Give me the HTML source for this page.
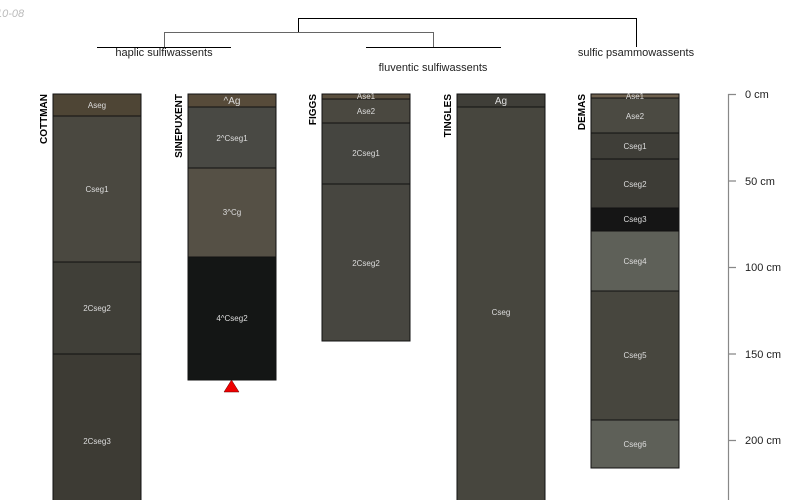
<!DOCTYPE html><html><head><style>body{margin:0;background:#fff}svg{display:block}</style></head><body>
<svg width="800" height="500" xmlns="http://www.w3.org/2000/svg" font-family="Liberation Sans, sans-serif">
<text x="-4" y="17" font-size="11" font-style="italic" fill="#bbb">10-08</text>
<g fill="none" stroke-width="1">
<path d="M298.5 32V18.5H636.5V47" stroke="#000"/>
<path d="M164.5 47V32.5H433.5V47" stroke="#666"/>
<path d="M97 47.5H231M366 47.5H501" stroke="#000"/>
</g>
<g font-size="11" fill="#222" text-anchor="middle">
<text x="164" y="56">haplic sulfiwassents</text>
<text x="433" y="71">fluventic sulfiwassents</text>
<text x="636" y="56">sulfic psammowassents</text>
</g>
<g font-size="10" font-weight="bold" text-anchor="end">
<text transform="translate(47,94) rotate(-90)">COTTMAN</text>
<text transform="translate(182,94) rotate(-90)">SINEPUXENT</text>
<text transform="translate(316,94) rotate(-90)">FIGGS</text>
<text transform="translate(451,94) rotate(-90)">TINGLES</text>
<text transform="translate(585,94) rotate(-90)">DEMAS</text>
</g>
<g stroke="#111" stroke-width="1">
<rect x="53" y="94" width="88" height="22" fill="#4e4535"/>
<rect x="53" y="116" width="88" height="146" fill="#4a4840"/>
<rect x="53" y="262" width="88" height="92" fill="#403f38"/>
<rect x="53" y="354" width="88" height="150" fill="#3d3b34"/>
<rect x="188" y="94" width="88" height="13" fill="#574b3a"/>
<rect x="188" y="107" width="88" height="61" fill="#494944"/>
<rect x="188" y="168" width="88" height="89" fill="#555045"/>
<rect x="188" y="257" width="88" height="123" fill="#141615"/>
<rect x="322" y="94" width="88" height="5" fill="#5a4f3e"/>
<rect x="322" y="99" width="88" height="24" fill="#4a4840"/>
<rect x="322" y="123" width="88" height="61" fill="#454540"/>
<rect x="322" y="184" width="88" height="157" fill="#474640"/>
<rect x="457" y="94" width="88" height="13" fill="#3f3e38"/>
<rect x="457" y="107" width="88" height="397" fill="#47463e"/>
<rect x="591" y="94" width="88" height="4" fill="#6e614e"/>
<rect x="591" y="98" width="88" height="35" fill="#4b4a42"/>
<rect x="591" y="133" width="88" height="26" fill="#3f3e38"/>
<rect x="591" y="159" width="88" height="49" fill="#3d3c36"/>
<rect x="591" y="208" width="88" height="23" fill="#151515"/>
<rect x="591" y="231" width="88" height="60" fill="#5e6058"/>
<rect x="591" y="291" width="88" height="129" fill="#47463e"/>
<rect x="591" y="420" width="88" height="48" fill="#5e6058"/>
</g>
<path d="M224 392L231.5 380L239 392Z" fill="#e00" stroke="#600" stroke-width="0.5"/>
<g font-size="8" fill="#ddd" text-anchor="middle">
<text x="97" y="108">Aseg</text><text x="97" y="192">Cseg1</text><text x="97" y="311">2Cseg2</text><text x="97" y="444">2Cseg3</text>
<text x="232" y="104" font-size="10">^Ag</text><text x="232" y="141">2^Cseg1</text><text x="232" y="215">3^Cg</text><text x="232" y="321">4^Cseg2</text>
<text x="366" y="99">Ase1</text><text x="366" y="114">Ase2</text><text x="366" y="156">2Cseg1</text><text x="366" y="266">2Cseg2</text>
<text x="501" y="104" font-size="10">Ag</text><text x="501" y="315">Cseg</text>
<text x="635" y="99">Ase1</text><text x="635" y="119">Ase2</text><text x="635" y="149">Cseg1</text><text x="635" y="187">Cseg2</text><text x="635" y="222">Cseg3</text><text x="635" y="264">Cseg4</text><text x="635" y="358">Cseg5</text><text x="635" y="447">Cseg6</text>
</g>
<g stroke="#888" stroke-width="1.2"><path d="M728.5 94V500M728 94.5H736M728 181H736M728 267.5H736M728 354H736M728 440.5H736"/></g>
<g font-size="11" fill="#222"><text x="745" y="98">0 cm</text><text x="745" y="185">50 cm</text><text x="745" y="271">100 cm</text><text x="745" y="358">150 cm</text><text x="745" y="444">200 cm</text></g>
</svg></body></html>
